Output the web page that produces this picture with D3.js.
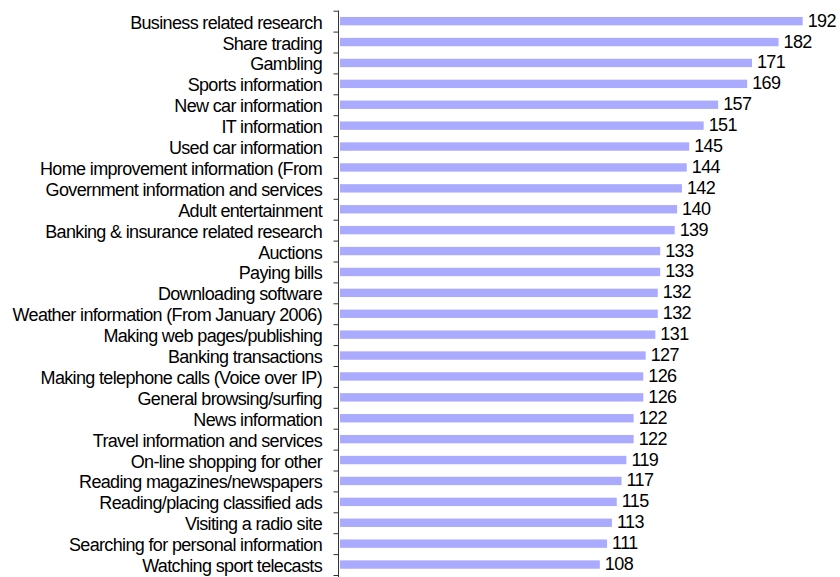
<!DOCTYPE html>
<html>
<head>
<meta charset="utf-8">
<script src="https://cdn.jsdelivr.net/npm/d3@7"></script>
<style>
  body { margin: 0; background: #fff; }
  text { font-family: Arial, "Liberation Sans", sans-serif; fill: #000; }
</style>
</head>
<body>
<div id="chart"></div>
<script>
var categories = [
  "Business related research",
  "Share trading",
  "Gambling",
  "Sports information",
  "New car information",
  "IT information",
  "Used car information",
  "Home improvement information (From",
  "Government information and services",
  "Adult entertainment",
  "Banking & insurance related research",
  "Auctions",
  "Paying bills",
  "Downloading software",
  "Weather information (From January 2006)",
  "Making web pages/publishing",
  "Banking transactions",
  "Making telephone calls (Voice over IP)",
  "General browsing/surfing",
  "News information",
  "Travel information and services",
  "On-line shopping for other",
  "Reading magazines/newspapers",
  "Reading/placing classified ads",
  "Visiting a radio site",
  "Searching for personal information",
  "Watching sport telecasts"
];

var values = [192, 182, 171, 169, 157, 151, 145, 144, 142, 140, 139, 133, 133, 132,
  132, 131, 127, 126, 126, 122, 122, 119, 117, 115, 113, 111, 108];

var svgWidth = 840;
var svgHeight = 577;

var plotLeft = 339;
var plotTop = 10.7;
var plotBottom = 575;

var svg = d3.select("#chart")
  .append("svg")
  .attr("width", svgWidth)
  .attr("height", svgHeight);

// x scale: zero sits on the axis line
var x = d3.scaleLinear()
  .domain([0, 200])
  .range([plotLeft, plotLeft + 200 * 2.415]);

// one band per category
var y = d3.scaleBand()
  .domain(categories)
  .range([plotTop, plotBottom])
  .paddingInner(0.6)
  .paddingOuter(0.3);

// boundary scale so the ticks fall between the bars
var yEdge = d3.scaleLinear()
  .domain([0, categories.length])
  .range([plotTop, plotBottom]);

var leftAxis = d3.axisLeft(yEdge)
  .tickValues(d3.range(categories.length + 1))
  .tickSize(5)
  .tickSizeOuter(0)
  .tickFormat("");

var axisG = svg.append("g")
  .attr("transform", `translate(${plotLeft - 0.5}, 0)`)
  .call(leftAxis);

axisG.select(".domain").remove();
axisG.selectAll("line").attr("stroke", "#333");

// the vertical axis line runs to the bottom edge
axisG.append("line")
  .attr("x1", 0).attr("x2", 0)
  .attr("y1", plotTop).attr("y2", svgHeight)
  .attr("stroke", "#333");

// bars
svg.selectAll(".bar")
  .data(values)
  .enter()
  .append("rect")
  .attr("class", "bar")
  .attr("x", x(0) + 1)
  .attr("y", (d, i) => y(categories[i]))
  .attr("width", d => x(d) - x(0) - 1)
  .attr("height", y.bandwidth())
  .attr("fill", "#aaaaff");

// category labels
svg.selectAll(".cat")
  .data(categories)
  .enter()
  .append("text")
  .attr("class", "cat")
  .attr("x", 322)
  .attr("y", d => y(d) + y.bandwidth() / 2 + 7.5)
  .attr("text-anchor", "end")
  .style("font-size", "18px")
  .style("letter-spacing", "-0.65px")
  .text(d => d);

// value labels
svg.selectAll(".val")
  .data(values)
  .enter()
  .append("text")
  .attr("class", "val")
  .attr("x", d => x(d) + 5)
  .attr("y", (d, i) => y(categories[i]) + y.bandwidth() / 2 + 5.5)
  .style("font-size", "18px")
  .style("letter-spacing", "-0.6px")
  .text(d => d);
</script>
</body>
</html>
